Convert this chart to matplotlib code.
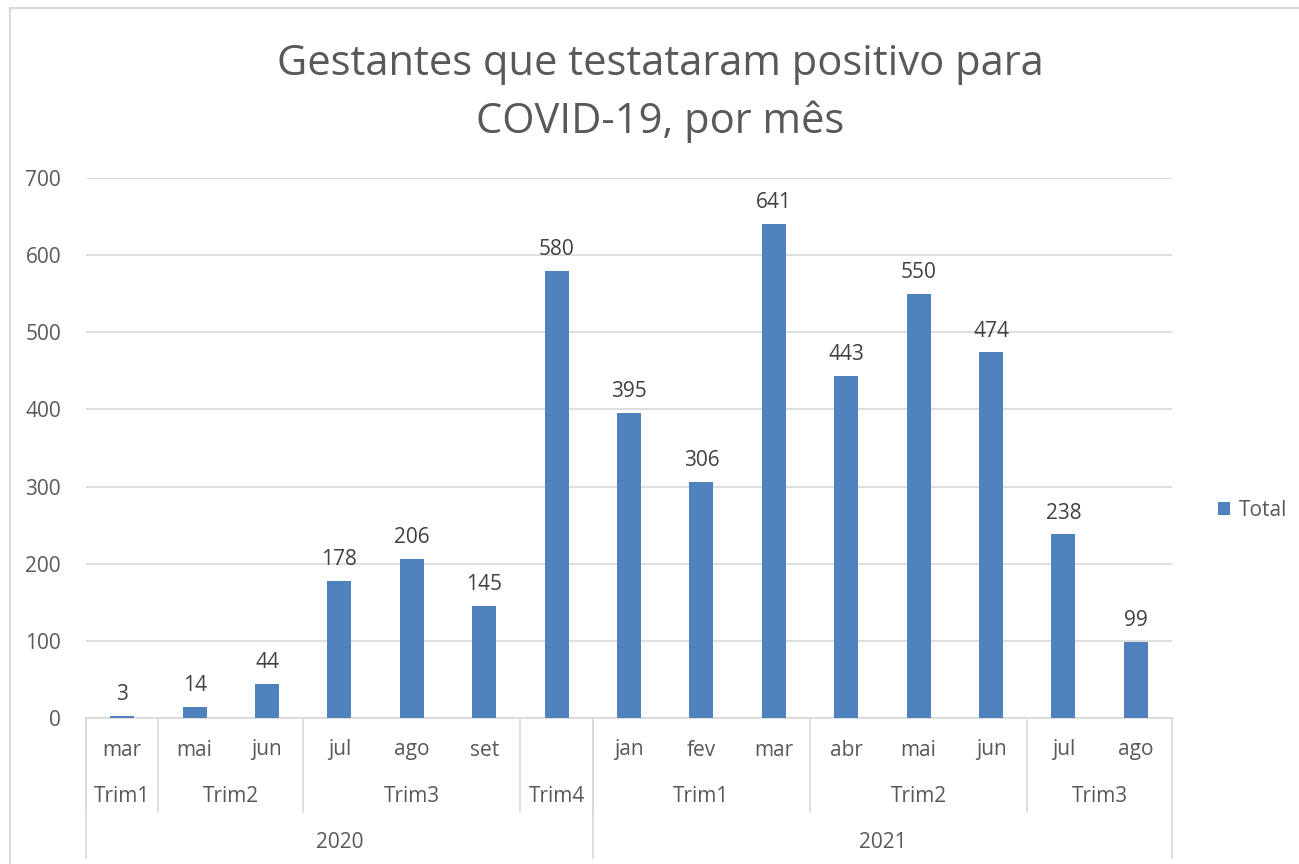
import numpy as np
import matplotlib.pyplot as plt
from matplotlib import transforms
from matplotlib.patches import Rectangle

# data
months = ['mar', 'mai', 'jun', 'jul', 'ago', 'set', '',
          'jan', 'fev', 'mar', 'abr', 'mai', 'jun', 'jul', 'ago']
totals = [3, 14, 44, 178, 206, 145, 580, 395, 306, 641, 443, 550, 474, 238, 99]
quarters = ['Trim1', 'Trim2', 'Trim3', 'Trim4', 'Trim1', 'Trim2', 'Trim3']
quarter_sizes = [1, 2, 3, 1, 3, 3, 2]
years = ['2020', '2021']
year_sizes = [7, 8]

text_color = '#595959'
grid_color = '#d9d9d9'
bar_color = '#4f81bd'
fs = 15

plt.rcParams['font.family'] = ['Open Sans', 'DejaVu Sans']

fig = plt.figure(figsize=(12.99, 8.64), dpi=100)
ax = fig.add_axes([86 / 1299, 1 - 718 / 864, (1172 - 86) / 1299, (718 - 178) / 864])

# outer chart frame
fig.patches.append(Rectangle((10 / 1299, -0.01), 1.1, 1 - 8 / 864 + 0.01,
                             transform=fig.transFigure, fill=False,
                             edgecolor=grid_color, linewidth=1.5))

x = np.arange(len(totals))
ax.bar(x, totals, width=0.33, color=bar_color, label='Total', zorder=3)
for xi, v in zip(x, totals):
    ax.text(xi, v + 14, str(v), ha='center', va='bottom', fontsize=fs, color='#404040')

ax.set_xlim(-0.5, len(totals) - 0.5)
ax.set_ylim(0, 700)
ax.set_yticks(range(0, 701, 100))
ax.tick_params(axis='y', length=0, labelsize=fs, labelcolor=text_color, pad=18)
ax.set_xticks([])
ax.grid(axis='y', color=grid_color, linewidth=1.2, zorder=0)
for s in ['top', 'right', 'left']:
    ax.spines[s].set_visible(False)
ax.spines['bottom'].set_color(grid_color)
ax.spines['bottom'].set_linewidth(1.2)

# multi-level category axis
tr = transforms.blended_transform_factory(ax.transData, fig.transFigure)
y_month = 1 - 750 / 864
y_quarter = 1 - 797 / 864
y_year = 1 - 842 / 864
y_axis = 1 - 718 / 864
y_qline = 1 - 812 / 864
y_bottom = 1 - 858 / 864

for xi, m in zip(x, months):
    ax.text(xi, y_month, m, transform=tr, ha='center', va='center',
            fontsize=fs, color=text_color)

start = 0
for q, n in zip(quarters, quarter_sizes):
    ax.text(start + n / 2 - 0.5, y_quarter, q, transform=tr, ha='center',
            va='center', fontsize=fs, color=text_color)
    ax.plot([start - 0.5, start - 0.5], [y_axis, y_qline], transform=tr,
            color=grid_color, linewidth=1.2, clip_on=False)
    start += n

start = 0
for yr, n in zip(years, year_sizes):
    ax.text(start + n / 2 - 0.5, y_year, yr, transform=tr, ha='center',
            va='center', fontsize=fs, color=text_color)
    ax.plot([start - 0.5, start - 0.5], [y_axis, y_bottom], transform=tr,
            color=grid_color, linewidth=1.2, clip_on=False)
    start += n
ax.plot([start - 0.5, start - 0.5], [y_axis, y_bottom], transform=tr,
        color=grid_color, linewidth=1.2, clip_on=False)

fig.text(660 / 1299, 1 - 93 / 864, 'Gestantes que testataram positivo para\nCOVID-19, por mês',
         ha='center', va='center', fontsize=30, color=text_color, linespacing=1.45)

leg = ax.legend(loc='center left', bbox_to_anchor=(1.025, 0.385), frameon=False,
                fontsize=fs, handlelength=0.6, handleheight=0.6, handletextpad=0.4)
for t in leg.get_texts():
    t.set_color(text_color)

fig.savefig('out.png', dpi=100)
